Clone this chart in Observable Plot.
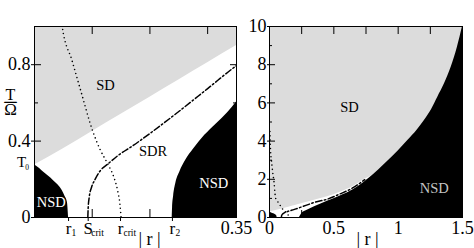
<!DOCTYPE html>
<html><head><meta charset="utf-8">
<script src="https://cdn.jsdelivr.net/npm/d3@7"></script>
<script src="https://cdn.jsdelivr.net/npm/@observablehq/plot@0.6"></script>
<style>
html,body{margin:0;padding:0;background:#fff;}
#chart{position:relative;width:474px;height:248px;overflow:hidden;}
#chart svg{position:absolute;left:0;top:0;}
#chart svg, #chart svg text, #chart svg g {font-family: "Liberation Serif", "Times New Roman", serif !important;}
</style></head><body><div id="chart"></div>
<script>
const GRAY = "#dcdcdc";
const T0 = 0.275;

// SD / SDR boundary (upper edge of the white region)
const sdEdgeR = [0, 0.05, 0.1, 0.15, 0.2, 0.25, 0.3, 0.35, 0.45, 0.55, 0.65, 0.72, 0.8];
const sdEdgeT = [T0, 0.36, 0.45, 0.54, 0.63, 0.72, 0.81, 0.90, 1.08, 1.32, 1.62, 1.92, 2.2];

// small NSD region at the origin
const nsdLowR = [0, 0.0017, 0.016, 0.033, 0.048, 0.053, 0.057, 0.059];
const nsdLowT = [T0, 0.272, 0.237, 0.193, 0.141, 0.11, 0.08, 0];

// NSD region on the right of the left panel
const nsdHighR = [0.2386, 0.2392, 0.241, 0.245, 0.252, 0.262, 0.276, 0.295, 0.315, 0.335, 0.35];
const nsdHighT = [0, 0.05, 0.11, 0.18, 0.24, 0.30, 0.36, 0.43, 0.49, 0.55, 0.605];

// NSD region of the wide panel
const nsdWideR = [0.233, 0.25, 0.285, 0.35, 0.45, 0.55, 0.65, 0.764, 0.85, 0.919, 1.0, 1.075, 1.15, 1.204, 1.26, 1.308, 1.36, 1.412, 1.46, 1.5];
const nsdWideT = [0, 0.2, 0.35, 0.56, 0.85, 1.12, 1.45, 2.0, 2.5, 2.95, 3.48, 4.03, 4.6, 5.08, 5.66, 6.3, 7.0, 7.87, 8.9, 10];

// dotted curve
const dotR = [0.003, 0.008, 0.015, 0.026, 0.036, 0.042, 0.048, 0.065, 0.080, 0.100, 0.113, 0.127, 0.137, 0.144, 0.148, 0.150];
const dotT = [4.5, 3.5, 3.0, 2.3, 1.8, 1.3, 1.0, 0.822, 0.665, 0.46, 0.36, 0.28, 0.215, 0.141, 0.07, 0];

// dash-dot curve
const ddR = [0.0924, 0.093, 0.095, 0.099, 0.105, 0.114, 0.127, 0.145, 0.17, 0.2, 0.25, 0.3, 0.35, 0.45, 0.55, 0.65, 0.74];
const ddT = [0, 0.05, 0.11, 0.16, 0.2, 0.245, 0.28, 0.325, 0.375, 0.44, 0.555, 0.675, 0.795, 0.96, 1.24, 1.56, 1.98];

// ticks
const leftYTicks = [0, 0.4, 0.8];
const leftYMajorIn = [0.4, 0.8];
const leftYMinor = [0.2, 0.6];
const leftXTicks = [0.1, 0.2, 0.3];
const leftXEnd = [0.35];
const rightYTicks = [0, 2, 4, 6, 8, 10];
const rightYMajorIn = [2, 4, 6, 8];
const rightYMinor = [1, 3, 5, 7, 9];
const rightXLabels = [0, 0.5, 1, 1.5];
const rightXTicks = [0.25, 0.5, 0.75, 1, 1.25];

// special r values below left axis
const specialR = [0.059, 0.093, 0.149, 0.239];
const specialMain = ["r", "S", "r", "r"];
const specialSub = ["1", "crit", "crit", "2"];

// region labels
const leftLabName = ["SD", "SDR", "NSD", "NSD"];
const leftLabR = [0.123, 0.2053, 0.029, 0.3107];
const leftLabT = [0.69, 0.347, 0.078, 0.18];
const leftLabColor = ["black", "black", "white", "white"];
const rightLabName = ["SD", "NSD"];
const rightLabR = [0.622, 1.28];
const rightLabT = [5.77, 1.50];
const rightLabColor = ["black", "#c4c4c4"];

const zip = (R, T) => R.map((r, i) => ({r, T: T[i]}));
const sdEdge = zip(sdEdgeR, sdEdgeT);
const nsdLow = zip(nsdLowR, nsdLowT);
const nsdHigh = zip(nsdHighR, nsdHighT);
const nsdWide = zip(nsdWideR, nsdWideT);
const dotted = zip(dotR, dotT);
const dashdot = zip(ddR, ddT);
const special = specialR.map((r, i) => ({r, main: specialMain[i], sub: specialSub[i]}));
const leftLabels = leftLabName.map((name, i) => ({name, r: leftLabR[i], T: leftLabT[i], color: leftLabColor[i]}));
const rightLabels = rightLabName.map((name, i) => ({name, r: rightLabR[i], T: rightLabT[i], color: rightLabColor[i]}));

const FONT = "Liberation Serif";
const common = {
  width: 474, height: 248, marginTop: 26, marginBottom: 31,
  color: {type: "identity"},
  style: {background: "transparent", overflow: "visible", fontFamily: FONT}
};
const fmt = d => String(d);
const areaOpt = (fill) => ({x: "r", y: "T", fill, curve: "monotone-x", clip: true});
const dotOpt = {x: "r", y: "T", stroke: "black", strokeWidth: 1.6, strokeDasharray: "0,4.2", strokeLinecap: "round", curve: "monotone-x", clip: true};
const ddOpt = {x: "r", y: "T", stroke: "black", strokeWidth: 1.5, strokeDasharray: "6.5,2.5,1.5,2.5", curve: "monotone-x", clip: true};
const tk = (o) => ({fill: "none", label: null, ...o});

const left = Plot.plot({
  ...common, marginLeft: 34, marginRight: 238,
  x: {domain: [0, 0.35]}, y: {domain: [0, 1]},
  marks: [
    Plot.frame({fill: GRAY}),
    Plot.areaY(sdEdge, areaOpt("white")),
    Plot.areaY(nsdLow, areaOpt("black")),
    Plot.areaY(nsdHigh, areaOpt("black")),
    Plot.line(dotted, dotOpt),
    Plot.line(dashdot, ddOpt),
    Plot.frame({stroke: "black"}),
    Plot.axisY({ticks: leftYTicks, tickSize: 3, tickPadding: 1, fontSize: 18, tickFormat: fmt, label: null}),
    Plot.axisY(tk({ticks: leftYMajorIn, tickSize: -7})),
    Plot.axisY(tk({ticks: leftYMinor, tickSize: -4})),
    Plot.axisY(tk({anchor: "right", ticks: leftYMajorIn, tickSize: -7})),
    Plot.axisY(tk({anchor: "right", ticks: leftYMinor, tickSize: -4})),
    Plot.axisX(tk({anchor: "top", ticks: leftXTicks, tickSize: -7})),
    Plot.axisX(tk({anchor: "bottom", ticks: leftXTicks, tickSize: -8})),
    Plot.axisX(tk({anchor: "bottom", ticks: specialR, tickSize: 4})),
    Plot.axisX({ticks: leftXEnd, tickSize: 0, tickPadding: 4, fontSize: 18, tickFormat: fmt, label: null}),
    Plot.text(special, {x: "r", text: "main", frameAnchor: "bottom", lineAnchor: "bottom", dy: 16, fontSize: 17}),
    Plot.text(special, {x: "r", text: "sub", frameAnchor: "bottom", lineAnchor: "bottom", textAnchor: "start", dx: 3, dy: 18, fontSize: 9.5}),
    Plot.text(["| r |"], {text: d => d, frameAnchor: "bottom", lineAnchor: "bottom", dx: 14, dy: 27.5, fontSize: 18}),
    Plot.text(leftLabels, {x: "r", y: "T", text: "name", fill: "color", fontSize: 14.5, lineAnchor: "middle"}),
    Plot.text([T0], {y: d => d, text: () => "T", frameAnchor: "left", textAnchor: "middle", lineAnchor: "middle", dx: -13, dy: -2.5, fontSize: 15}),
    Plot.text([T0], {y: d => d, text: () => "0", frameAnchor: "left", textAnchor: "middle", lineAnchor: "middle", dx: -7.5, dy: 2.5, fontSize: 7.5}),
    Plot.text(["T"], {text: d => d, frameAnchor: "left", textAnchor: "middle", lineAnchor: "middle", dx: -24, dy: -27.5, fontSize: 16}),
    Plot.text(["\u2014"], {text: d => d, frameAnchor: "left", textAnchor: "middle", lineAnchor: "middle", dx: -24, dy: -20.5, fontSize: 12, stroke: "black", strokeWidth: 0.6}),
    Plot.text(["\u03A9"], {text: d => d, frameAnchor: "left", textAnchor: "middle", lineAnchor: "middle", dx: -24, dy: -12.5, fontSize: 17})
  ]
});

const right = Plot.plot({
  ...common, marginLeft: 269, marginRight: 12,
  x: {domain: [0, 1.5]}, y: {domain: [0, 10]},
  marks: [
    Plot.frame({fill: GRAY}),
    Plot.areaY(sdEdge, areaOpt("white")),
    Plot.areaY(nsdWide, areaOpt("black")),
    Plot.areaY(nsdLow, areaOpt("black")),
    Plot.line(dotted, dotOpt),
    Plot.line(dashdot, ddOpt),
    Plot.frame({stroke: "black"}),
    Plot.axisY({ticks: rightYTicks, tickSize: 2, tickPadding: 1, fontSize: 18, tickFormat: fmt, label: null}),
    Plot.axisY(tk({ticks: rightYMajorIn, tickSize: -6})),
    Plot.axisY(tk({ticks: rightYMinor, tickSize: -3})),
    Plot.axisY(tk({anchor: "right", ticks: rightYMajorIn, tickSize: -6})),
    Plot.axisX(tk({anchor: "top", ticks: rightXTicks, tickSize: -7})),
    Plot.axisX(tk({anchor: "bottom", ticks: rightXTicks, tickSize: -7})),
    Plot.axisX({ticks: rightXLabels, tickSize: 0, tickPadding: 4, fontSize: 18, tickFormat: fmt, label: null}),
    Plot.text(["| r |"], {text: d => d, frameAnchor: "bottom", lineAnchor: "bottom", dx: 1.5, dy: 27.5, fontSize: 18}),
    Plot.text(rightLabels, {x: "r", y: "T", text: "name", fill: "color", fontSize: 14.5, lineAnchor: "middle"})
  ]
});

const chart = document.getElementById("chart");
chart.appendChild(left);
chart.appendChild(right);
</script>
</body></html>
